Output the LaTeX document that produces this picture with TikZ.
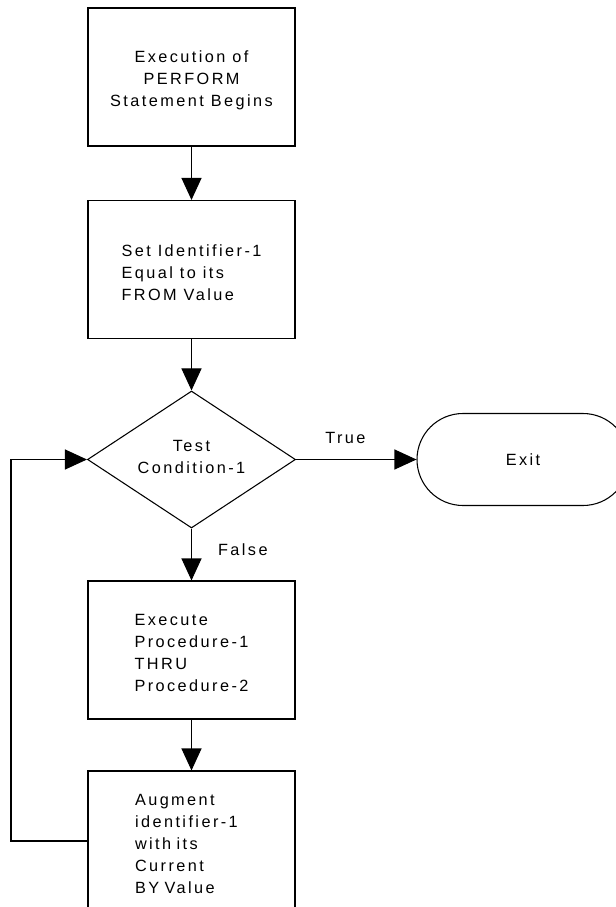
\documentclass[tikz,border=0pt]{standalone}
\usepackage{fontspec}
\setmainfont{Liberation Sans}[LetterSpace=15]
\usetikzlibrary{arrows.meta,shapes.geometric,shapes.misc}
% extra room above the first line of a box's text
\newcommand\topgap{\rule{0pt}{13.4pt}}
\begin{document}
\begin{tikzpicture}[x=0.75pt,y=-0.75pt,
  font=\fontsize{12.2}{16.5}\selectfont,
  every node/.style={inner sep=0pt},
  flowbox/.style={draw,line width=0.8pt,rectangle,minimum width=207*0.75pt,
    minimum height=138*0.75pt,align=left},
  decision/.style={draw,line width=0.8pt,diamond,aspect=1.52,
    minimum width=208*0.75pt,minimum height=137*0.75pt,align=center,
    execute at end node={\rule[-4.5pt]{0pt}{0pt}}},
  terminal/.style={draw,line width=0.8pt,rounded rectangle,
    minimum width=212*0.75pt,minimum height=92*0.75pt},
  flow/.style={line width=0.8pt,-{Triangle[length=16.5pt,width=15pt]}},
  lbl/.style={inner sep=0pt}
]
\clip (0,0) rectangle (616,907);

% process steps
\node[flowbox,align=center] (start) at (191.5,77)
  {\topgap Execution of\\PERFORM\\Statement Begins};
\node[flowbox] (init) at (191.5,269.5)
  {\topgap Set Identifier-1\\Equal to its\\FROM Value};
\node[decision] (test) at (191.5,459.5) {Test\\Condition-1};
\node[terminal] (exit) at (523,459.5) {Exit};
\node[flowbox] (exec) at (191.5,650)
  {\topgap Execute\\Procedure-1\\THRU\\Procedure-2};
\node[flowbox,minimum height=140*0.75pt,text width=113*0.75pt,
  inner xsep=47*0.75pt] (aug) at (191.5,841)
  {\topgap Augment\\identifier-1\\with its\\Current\\BY Value};

% loop-back corner
\coordinate (loopx) at (11,0);

% connectors
\draw[flow] (start) -- (init);
\draw[flow] (init) -- (test);
\draw[flow] (test) -- node[lbl,pos=0.41,above=15*0.75pt] {True} (exit);
\draw[flow] (test) -- node[lbl,pos=0.4,right=26*0.75pt] {False} (exec);
\draw[flow] (exec) -- (aug);
\draw[flow] (aug.west) -- (aug.west -| loopx) |- (test.west);
\end{tikzpicture}
\end{document}
